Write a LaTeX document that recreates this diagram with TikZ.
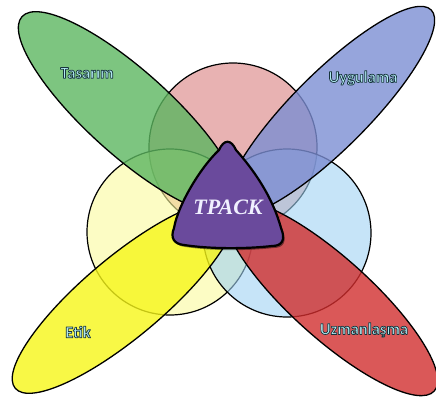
\documentclass[tikz,border=0pt]{standalone}
\usepackage{fontspec}
\setmainfont{Liberation Serif}
\newfontfamily\labelfont{Carlito}
\usetikzlibrary{shadows}

% Colours
\definecolor{pinkC}{RGB}{217,127,127}
\definecolor{yellowC}{RGB}{250,250,157}
\definecolor{blueC}{RGB}{160,210,243}
\definecolor{greenL}{RGB}{92,182,96}
\definecolor{blueL}{RGB}{124,142,211}
\definecolor{yellowL}{RGB}{246,246,24}
\definecolor{redL}{RGB}{209,46,46}
\definecolor{tpackPurple}{RGB}{106,74,156}
\definecolor{lblCyan}{RGB}{176,232,240}

% Outlined label text: fill and stroke, dark edge
\newcommand\outlined[1]{\special{pdf:literal direct 2 Tr 0.7 w 0.086 0.204 0.235 RG}#1\special{pdf:literal direct 0 Tr 0.4 w}}

\begin{document}
\begin{tikzpicture}[x=1pt, y=-1pt, line cap=round, line join=round,
		circ/.style={draw=black, line width=1.2pt, fill opacity=0.6},
		leaf/.style={draw=black, line width=1.3pt, fill opacity=0.8},
		lbl/.style={font=\labelfont\bfseries\fontsize{16.5}{16.5}\selectfont, text=lblCyan, inner sep=0pt}]
	
	% Picture frame (pixel coordinates, y downwards)
	\useasboundingbox (0,0) rectangle (436,398);
	
	% Three circles
	\draw[circ, fill=pinkC] (233,147) circle[radius=84pt];
	\draw[circ, fill=yellowC] (170,232) circle[radius=83pt];
	\draw[circ, fill=blueC] (287,233) circle[radius=84pt];
	
	% Four leaves
	\draw[leaf, fill=greenL, rotate around={-42:(129,113)}] (129,113) ellipse[x radius=144pt, y radius=42pt];
	\draw[leaf, fill=blueL, rotate around={45:(330,111)}] (330,111) ellipse[x radius=143pt, y radius=38pt];
	\draw[leaf, fill=yellowL, rotate around={40:(124,297)}] (124,297) ellipse[x radius=142pt, y radius=40pt];
	\draw[leaf, fill=redL, rotate around={-42:(331,298)}] (331,298) ellipse[x radius=139pt, y radius=40pt];
	
	% Leaf labels
	\node[lbl] (tasarim) at (87,73) {\outlined{Tasarım}};
	\node[lbl] (uygulama) at (363,78) {\outlined{Uygulama}};
	\node[lbl] (etik) at (78,332) {\outlined{Etik}};
	\node[lbl] (uzman) at (364,330) {\outlined{Uzmanlaşma}};
	
	% Centre triangle
	\draw[line width=2.2pt, fill=tpackPurple,
	drop shadow={shadow xshift=1.5pt, shadow yshift=-2pt, fill=black, opacity=0.45}]
	(219,150) .. controls (224,139) and (231,139) .. (236,150)
	.. controls (252,168) and (272,195) .. (281,228)
	.. controls (286,240) and (282,246) .. (272,246)
	.. controls (245,249) and (210,249) .. (184,245)
	.. controls (174,244) and (170,238) .. (174,228)
	.. controls (178,205) and (200,168) .. (219,150) -- cycle;
	\node[font=\bfseries\itshape\fontsize{22}{22}\selectfont, text=white!94!blue] (tpack) at (228,207) {TPACK};
	
\end{tikzpicture}
\end{document}
